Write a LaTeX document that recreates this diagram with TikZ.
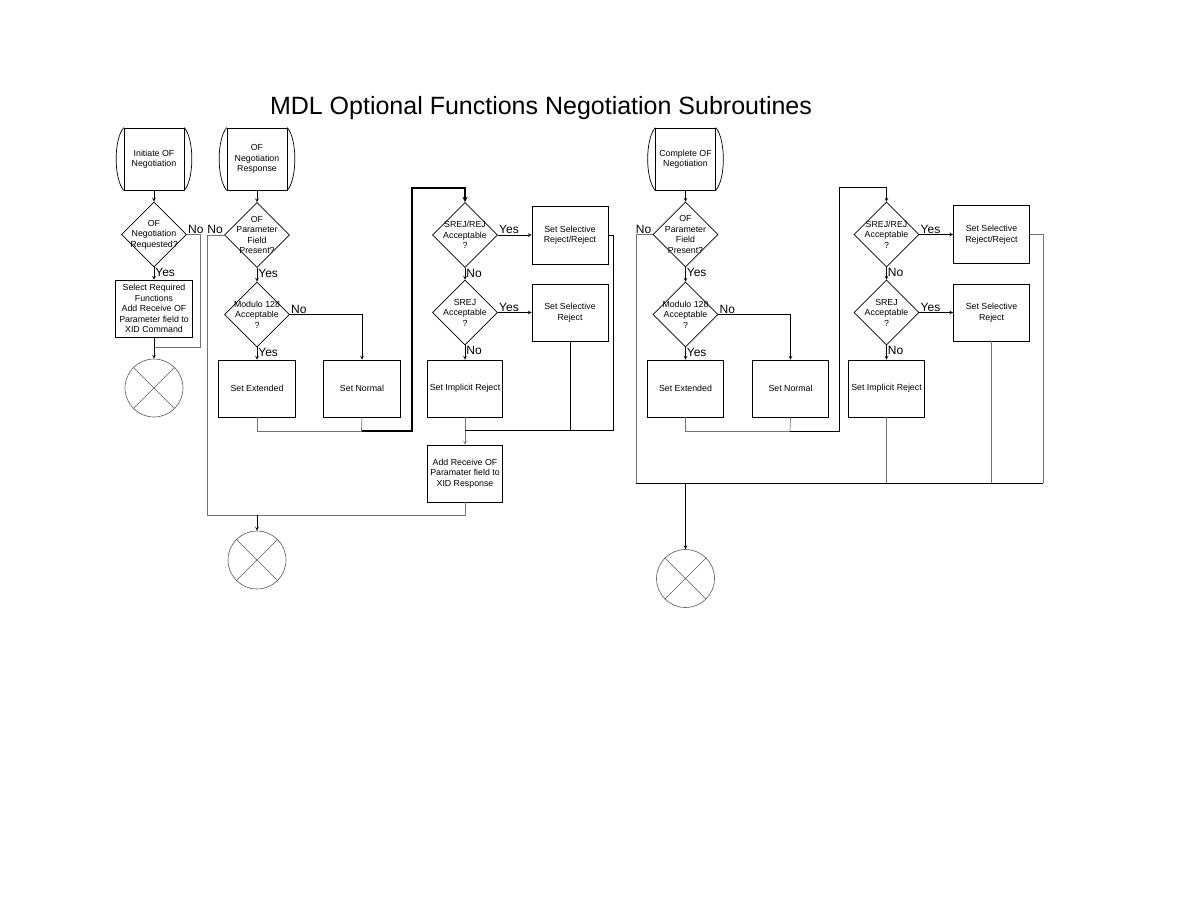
\documentclass[tikz,border=0pt]{standalone}
\usepackage{fontspec}
\setmainfont{Liberation Sans}
\usepackage{tikz}
\usetikzlibrary{arrows,positioning,shapes.geometric}

\begin{document}
\begin{tikzpicture}[x=1pt,y=1pt,>=stealth,on grid,
  every node/.style={font=\fontsize{8.8}{10.5}\selectfont},
  term/.style={rectangle,draw,line width=0.7pt,minimum width=60pt,minimum height=62pt,inner sep=1pt,align=center},
  decision/.style={diamond,draw,line width=0.7pt,minimum width=65pt,minimum height=65pt,inner sep=-6pt,align=center},
  process/.style={rectangle,draw,line width=0.7pt,minimum width=77pt,minimum height=57pt,inner sep=1pt,align=center},
  endpt/.style={circle,draw=black!65,line width=0.6pt,minimum size=58pt,inner sep=0pt},
  lbl/.style={font=\fontsize{12}{14}\selectfont,inner sep=1pt},
  bline/.style={draw=black,line width=0.7pt},
  gline/.style={draw=black!55,line width=0.7pt}]
\fill[white] (0,0) rectangle (1188,-918);
\useasboundingbox (0,0) rectangle (1188,-918);

\node[font=\fontsize{25}{30}\selectfont] (title) at (541,-108) {MDL Optional Functions Negotiation Subroutines};

% initiate
\node[term] (t1) at (154,-159) {Initiate OF\\Negotiation};
\node[decision] [below=75.5pt of t1] (d1) {OF\\Negotiation\\Requested?};
\node[process] [below=74pt of d1] (b1) {Select Required\\Functions\\Add Receive OF\\Parameter field to\\XID Command};
\node[endpt] [below=79.5pt of b1] (e1) {};

% response
\node[term] (t2) at (257,-159) {OF\\Negotiation\\Response};
\node[decision] [below=76pt of t2] (d2) {OF\\Parameter\\Field\\Present?};
\node[decision] [below=79.5pt of d2] (d3) {Modulo 128\\Acceptable\\?};
\node[process] [below=74pt of d3] (b2) {Set Extended};
\node[process] [right=105pt of b2] (b3) {Set Normal};
\node[decision] [right=208pt of d2] (d4) {SREJ/REJ\\Acceptable\\?};
\node[process,minimum width=76pt,minimum height=58pt] [right=105pt of d4] (b4) {Set Selective\\Reject/Reject};
\node[decision] [below=77.5pt of d4] (d5) {SREJ\\Acceptable\\?};
\node[process,minimum width=76pt] [right=105pt of d5] (b5) {Set Selective\\Reject};
\node[process,minimum width=75pt] [below=76pt of d5] (b6) {Set Implicit Reject};
\node[process,minimum width=75pt] [below=85pt of b6] (b7) {Add Receive OF\\Paramater field to\\XID Response};
\node[endpt] (e2) at (257,-560) {};

% complete
\node[term] (t3) at (685.5,-159) {Complete OF\\Negotiation};
\node[decision] [below=75.5pt of t3] (d6) {OF\\Parameter\\Field\\Present?};
\node[decision] [below=80pt of d6] (d7) {Modulo 128\\Acceptable\\?};
\node[process,minimum width=76pt] [below=74pt of d7] (b8) {Set Extended};
\node[process,minimum width=76pt] [right=105pt of b8] (b9) {Set Normal};
\node[decision] [right=201pt of d6] (d8) {SREJ/REJ\\Acceptable\\?};
\node[process,minimum width=76pt,minimum height=58pt] [right=105pt of d8] (b10) {Set Selective\\Reject/Reject};
\node[decision] [below=78pt of d8] (d9) {SREJ\\Acceptable\\?};
\node[process,minimum width=76pt] [right=105pt of d9] (b11) {Set Selective\\Reject};
\node[process,minimum width=76pt] [below=76pt of d9] (b12) {Set Implicit Reject};
\node[endpt] (e3) at (685.5,-578.5) {};

\foreach \t in {t1,t2,t3} {
  \draw[line width=0.7pt] (\t.north west) .. controls +(-10,-12) and +(-10,12) .. (\t.south west);
  \draw[line width=0.7pt] (\t.north east) .. controls +(10,-12) and +(10,12) .. (\t.south east);
}
\foreach \e in {e1,e2,e3}
  \draw[black!65,line width=0.6pt] (\e.45) -- (\e.225) (\e.135) -- (\e.315);

\coordinate (nA) at (200,-347);
\coordinate (jA) at (153.5,-347);
\coordinate (nB) at (207,-515);
\coordinate (jB) at (257,-515);
\coordinate (jC) at (361.5,-431);
\coordinate (rB) at (412,-188);
\coordinate (jD) at (465,-430);
\coordinate (rC) at (613,-430);
\coordinate (jE) at (790,-431);
\coordinate (rD) at (839,-187);
\coordinate (nC) at (636,-483);
\coordinate (jF) at (685.5,-483);
\coordinate (rE) at (1043,-483);

% initiate
\draw[bline,->] (t1.south -| d1.north) -- (d1.north);
\draw[bline,->] (d1.south) node[lbl,anchor=north west]{Yes} -- (b1.north);
\draw[gline] (d1.east) node[lbl,anchor=south west]{No} -| (nA) -- (jA);
\draw[bline,->] (b1.south) -- (e1.north);

% response
\draw[bline,->] (t2) -- (d2);
\draw[bline,->] (d2.south) node[lbl,anchor=north west]{Yes} -- (d3.north);
\draw[gline] (d2.west) node[lbl,anchor=south east]{No} -| (nB) -- (jB);
\draw[bline,->] (d3.south) node[lbl,anchor=north west]{Yes} -- (b2.north);
\draw[bline,->] (d3.east) node[lbl,anchor=south west]{No} -| (b3.north);
\draw[gline] (b2.south) |- (jC);
\draw[gline] (b3.south) -- (jC);
\draw[bline,line width=1.4pt,->] (jC) -| (rB) -| (d4.north);
\draw[bline,->] (d4.east) node[lbl,anchor=south west]{Yes} -- (b4.west);
\draw[bline,->] (d4.south) node[lbl,anchor=north west]{No} -- (d5.north);
\draw[bline,->] (d5.east) node[lbl,anchor=south west]{Yes} -- (b5.west);
\draw[bline,->] (d5.south) node[lbl,anchor=north west]{No} -- (b6.north);
\draw[gline,->] (b6.south) -- (b7.north);
\draw[bline] (b4.east) -| (rC) -- (jD);
\draw[bline] (b5.south) -- (b5.south |- jD);
\draw[gline] (b7.south) |- (jB);
\draw[bline,->] (jB) -- (e2.north);

% complete
\draw[bline,->] (t3) -- (d6);
\draw[bline,->] (d6.south) node[lbl,anchor=north west]{Yes} -- (d7.north);
\draw[gline] (d6.west) node[lbl,anchor=south east]{No} -| (nC);
\draw[bline,->] (d7.south) node[lbl,anchor=north west]{Yes} -- (b8.north);
\draw[bline,->] (d7.east) node[lbl,anchor=south west]{No} -| (b9.north);
\draw[gline] (b8.south) |- (jE);
\draw[gline] (b9.south) -- (jE);
\draw[bline,->] (jE) -| (rD) -| (d8.north);
\draw[bline,->] (d8.east) node[lbl,anchor=south west]{Yes} -- (b10.west);
\draw[bline,->] (d8.south) node[lbl,anchor=north west]{No} -- (d9.north);
\draw[bline,->] (d9.east) node[lbl,anchor=south west]{Yes} -- (b11.west);
\draw[bline,->] (d9.south) node[lbl,anchor=north west]{No} -- (b12.north);
\draw[gline] (b10.east) -| (rE);
\draw[gline] (b11.south) -- (b11.south |- rE);
\draw[gline] (b12.south) -- (b12.south |- rE);
\draw[bline] (nC) -- (rE);
\draw[bline,->] (jF) -- (e3.north);
\end{tikzpicture}
\end{document}
